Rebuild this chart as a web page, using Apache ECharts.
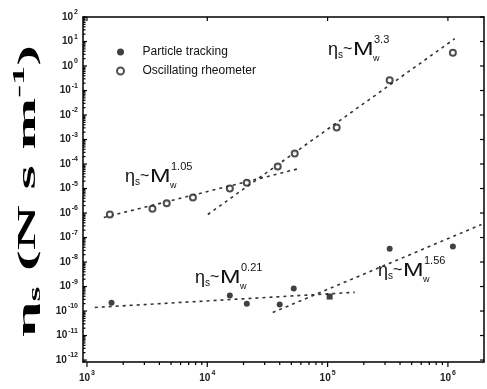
<!DOCTYPE html>
<html>
<head>
<meta charset="utf-8">
<script src="https://cdn.jsdelivr.net/npm/echarts@6/dist/echarts.min.js"></script>
<style>
  html, body { margin: 0; padding: 0; background: #fff; }
  #chart { width: 487px; height: 389px; }
</style>
</head>
<body>
<div id="chart"></div>
<script>
// decade exponents that carry a label
const xTickExps = [3, 4, 5, 6]
const yTickExps = [2, 1, 0, -1, -2, -3, -4, -5, -6, -7, -8, -9, -10, -11, -12]

// particle tracking (filled)
const trackMw = [1600, 15400, 21300, 40000, 52300, 104000, 328000, 1100000]
const trackEta = [2.2e-10, 4.3e-10, 2.0e-10, 1.85e-10, 8.3e-10, 3.9e-10, 3.5e-8, 4.3e-8]

// oscillating rheometer (open)
const rheoMw = [1550, 3500, 4600, 7600, 15400, 21300, 38500, 53300, 119000, 328000, 1100000]
const rheoEta = [8.7e-7, 1.5e-6, 2.5e-6, 4.3e-6, 1.0e-5, 1.7e-5, 7.9e-5, 2.7e-4, 3.1e-3, 0.26, 3.5]

// power-law guide lines (end points)
const rheoLowMw = [1380, 58600]
const rheoLowEta = [6.6e-7, 6.6e-5]
const rheoHighMw = [10100, 1140000]
const rheoHighEta = [8.7e-7, 13]
const trackLowMw = [1160, 168000]
const trackLowEta = [1.4e-10, 5.8e-10]
const trackHighMw = [35000, 1900000]
const trackHighEta = [8.7e-11, 3.4e-7]

// scaling exponents written next to the lines
const slopeLabels = ['3.3', '1.05', '0.21', '1.56']

const xMin = 2.967, xMax = 6.3
const yMin = -12.08, yMax = 2

const toLog = (xs, ys) => xs.map((x, i) => [Math.log10(x), Math.log10(ys[i])])

function logTicks(lo, hi) {
  const out = []
  for (let n = Math.floor(lo); n <= Math.ceil(hi); n++) {
    for (let k = 1; k < 10; k++) {
      const v = n + Math.log10(k)
      if (v >= lo && v <= hi) out.push(v)
    }
  }
  return out
}

const labelRich = {
  b: { fontSize: 10, fontWeight: 'bold', color: '#222', fontFamily: 'Liberation Sans', lineHeight: 16, verticalAlign: 'middle' },
  e: { fontSize: 7, fontWeight: 'bold', color: '#222', fontFamily: 'Liberation Sans', lineHeight: 8, verticalAlign: 'top', padding: [0, 0, 0, 1] },
}
const powLabel = (v) => '{b|10}{e|' + Math.round(v) + '}'

const frame = { onZero: false, lineStyle: { color: '#000', width: 1.5 } }

function annotation(x, y, exp) {
  const base = { fontFamily: 'Liberation Sans', fill: '#111', textVerticalAlign: 'middle', verticalAlign: 'middle' }
  return {
    type: 'group', x: x, y: y,
    children: [
      { type: 'text', x: 0, y: 0, style: Object.assign({ text: 'η', fontSize: 18 }, base) },
      { type: 'text', x: 10, y: 5, style: Object.assign({ text: 's', fontSize: 10 }, base) },
      { type: 'text', x: 15, y: 0, style: Object.assign({ text: '~', fontSize: 16 }, base) },
      { type: 'text', x: 25, y: 0, scaleX: 1.3, style: Object.assign({ text: 'M', fontSize: 19 }, base) },
      { type: 'text', x: 45, y: 9, style: Object.assign({ text: 'w', fontSize: 9 }, base) },
      { type: 'text', x: 46, y: -10, style: Object.assign({ text: exp, fontSize: 11 }, base) },
    ],
  }
}

const guide = (name, xs, ys) => ({
  name: name,
  type: 'line',
  data: toLog(xs, ys),
  symbol: 'none',
  silent: true,
  z: 1,
  lineStyle: { color: '#333', width: 1.6, type: [3, 4] },
})

// tick marks along one side of the frame, placed through the axes
const isMajor = (v) => Math.abs(v - Math.round(v)) < 1e-9
function ticks(side, values) {
  return {
    type: 'custom',
    silent: true,
    z: 5,
    data: values.map((v) => [v, v]),
    renderItem: (params, api) => {
      const v = api.value(0)
      const major = isMajor(v)
      let x1, y1, x2, y2
      if (side === 'bottom') {
        const p = api.coord([v, yMin]); x1 = x2 = p[0]; y1 = p[1]; y2 = p[1] + (major ? 5 : 3)
      } else if (side === 'top') {
        const p = api.coord([v, yMax]); x1 = x2 = p[0]; y1 = p[1]; y2 = p[1] + 4
      } else if (side === 'left') {
        const p = api.coord([xMin, v]); y1 = y2 = p[1]; x1 = p[0]; x2 = p[0] + (major ? 4 : 2.5)
      } else {
        const p = api.coord([xMax, v]); y1 = y2 = p[1]; x1 = p[0]; x2 = p[0] - 4
      }
      return { type: 'line', shape: { x1, y1, x2, y2 }, style: { stroke: '#000', lineWidth: 1.2 } }
    },
  }
}

const myChart = echarts.init(document.getElementById('chart'))

const option = {
  backgroundColor: '#fff',
  animation: false,
  grid: { left: 83, right: 3, top: 17, bottom: 27 },
  legend: {
    data: ['Particle tracking', 'Oscillating rheometer'],
    orient: 'vertical',
    left: 111,
    top: 40,
    itemWidth: 34,
    itemHeight: 7,
    itemGap: 5,
    textStyle: { fontSize: 12, color: '#111', fontFamily: 'Liberation Sans', lineHeight: 14 },
  },
  xAxis: [
    {
      type: 'value', position: 'bottom', min: xMin, max: xMax,
      axisLine: frame,
      axisTick: { show: false },
      axisLabel: { customValues: xTickExps, formatter: powLabel, rich: labelRich, margin: 8 },
      splitLine: { show: false },
    },
    {
      type: 'value', position: 'top', min: xMin, max: xMax,
      axisLine: frame,
      axisTick: { show: false },
      axisLabel: { show: false },
      splitLine: { show: false },
    },
  ],
  yAxis: [
    {
      type: 'value', position: 'left', min: yMin, max: yMax,
      axisLine: frame,
      axisTick: { show: false },
      axisLabel: { customValues: yTickExps, formatter: powLabel, rich: labelRich, margin: 5 },
      splitLine: { show: false },
    },
    {
      type: 'value', position: 'right', min: yMin, max: yMax,
      axisLine: frame,
      axisTick: { show: false },
      axisLabel: { show: false },
      splitLine: { show: false },
    },
  ],
  series: [
    guide('fit1', rheoLowMw, rheoLowEta),
    guide('fit2', rheoHighMw, rheoHighEta),
    guide('fit3', trackLowMw, trackLowEta),
    guide('fit4', trackHighMw, trackHighEta),
    ticks('bottom', logTicks(xMin, xMax)),
    ticks('top', xTickExps),
    ticks('left', logTicks(yMin, yMax)),
    ticks('right', yTickExps),
    {
      name: 'Particle tracking',
      type: 'scatter',
      data: toLog(trackMw, trackEta),
      symbol: (val, params) => (params.dataIndex === 5 ? 'rect' : 'circle'),
      symbolSize: 6,
      itemStyle: { color: '#111' },
      z: 3,
    },
    {
      name: 'Oscillating rheometer',
      type: 'scatter',
      data: toLog(rheoMw, rheoEta),
      symbol: 'emptyCircle',
      symbolSize: 6,
      itemStyle: { color: '#222', borderWidth: 1.3 },
      z: 3,
    },
  ],
  graphic: [
    {
      type: 'text',
      x: 28, y: 191,
      rotation: Math.PI / 2,
      scaleX: 2.4,
      style: {
        text: '{t|η}{s|s}{t| (N s m}{p|-1}{t|)}',
        textAlign: 'center', align: 'center',
        textVerticalAlign: 'middle', verticalAlign: 'middle',
        fill: '#000',
        rich: {
          t: { fontSize: 26, fontWeight: 'bold', fontFamily: 'Liberation Serif', lineHeight: 32, verticalAlign: 'middle' },
          s: { fontSize: 16, fontWeight: 'bold', fontFamily: 'Liberation Serif', lineHeight: 15, verticalAlign: 'bottom' },
          p: { fontSize: 16, fontWeight: 'bold', fontFamily: 'Liberation Serif', lineHeight: 15, verticalAlign: 'top' },
        },
      },
    },
    annotation(328, 50, slopeLabels[0]),
    annotation(125, 177, slopeLabels[1]),
    annotation(195, 278, slopeLabels[2]),
    annotation(378, 271, slopeLabels[3]),
  ],
}

myChart.setOption(option)
</script>
</body>
</html>
